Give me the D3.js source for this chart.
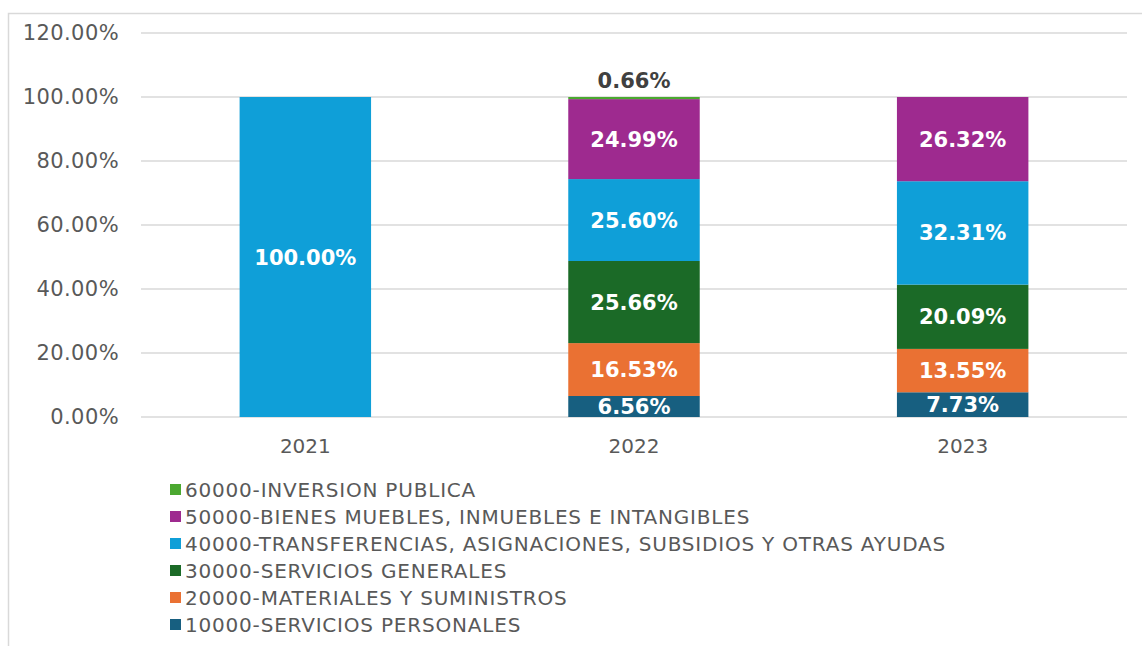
<!DOCTYPE html>
<html>
<head>
<meta charset="utf-8">
<script src="https://cdn.jsdelivr.net/npm/d3@7"></script>
<style>
  body { margin: 0; background: #fff; }
  text { font-family: "DejaVu Sans", sans-serif; }
</style>
</head>
<body>
<div id="chart"></div>
<script>
const years = ['2021', '2022', '2023'];
const seriesNames = [
  '10000-SERVICIOS PERSONALES',
  '20000-MATERIALES Y SUMINISTROS',
  '30000-SERVICIOS GENERALES',
  '40000-TRANSFERENCIAS, ASIGNACIONES, SUBSIDIOS Y OTRAS AYUDAS',
  '50000-BIENES MUEBLES, INMUEBLES E INTANGIBLES',
  '60000-INVERSION PUBLICA'
];
const seriesColors = ['#175f80', '#ea7133', '#1b6a27', '#0f9fd8', '#9e2a8f', '#4ba830'];
// percentages by series, one value per year
const s10000 = [0, 6.56, 7.73];
const s20000 = [0, 16.53, 13.55];
const s30000 = [0, 25.66, 20.09];
const s40000 = [100, 25.60, 32.31];
const s50000 = [0, 24.99, 26.32];
const s60000 = [0, 0.66, 0];
const yTicks = [0, 20, 40, 60, 80, 100, 120];

const allSeries = [s10000, s20000, s30000, s40000, s50000, s60000];

const totalWidth = 1142, totalHeight = 646;
const plot = { left: 141, right: 1127, top: 33, bottom: 417 };

const svg = d3.select('#chart').append('svg')
  .attr('width', totalWidth)
  .attr('height', totalHeight);

// outer frame
svg.append('rect')
  .attr('x', 8.5).attr('y', 13.5)
  .attr('width', 1150).attr('height', 650)
  .attr('fill', 'none')
  .attr('stroke', '#d9d9d9')
  .attr('stroke-width', 1.5);

const x = d3.scaleBand()
  .domain(years)
  .range([plot.left, plot.right])
  .paddingInner(0.6)
  .paddingOuter(0.3);

const y = d3.scaleLinear()
  .domain([0, 120])
  .range([plot.bottom, plot.top]);

// gridlines
svg.append('g')
  .selectAll('line')
  .data(yTicks)
  .enter()
  .append('line')
    .attr('x1', plot.left)
    .attr('x2', plot.right)
    .attr('y1', d => y(d))
    .attr('y2', d => y(d))
    .attr('stroke', '#d9d9d9')
    .attr('stroke-width', 1.5);

// y axis labels
const yAxis = d3.axisLeft(y).tickValues(yTicks).tickSize(0).tickPadding(0)
  .tickFormat(d => d.toFixed(2) + '%');
const yAxisView = svg.append('g')
  .attr('transform', 'translate(119,0)')
  .call(yAxis);
yAxisView.select('.domain').remove();
yAxisView.selectAll('text')
  .style('font-family', '"DejaVu Sans", sans-serif')
  .style('font-size', '21px')
  .style('letter-spacing', '0.4px')
  .attr('fill', '#595959');

// stacked data
const table = years.map((yr, i) => {
  const row = { year: yr };
  seriesNames.forEach((n, k) => { row[n] = allSeries[k][i]; });
  return row;
});
const stacked = d3.stack().keys(seriesNames)(table);

const layers = svg.append('g')
  .selectAll('g')
  .data(stacked)
  .enter()
  .append('g')
    .attr('fill', (d, i) => seriesColors[i]);

layers.selectAll('rect')
  .data(d => d.filter(p => p[1] - p[0] > 0))
  .enter()
  .append('rect')
    .attr('x', d => x(d.data.year))
    .attr('width', x.bandwidth())
    .attr('y', d => y(d[1]))
    .attr('height', d => y(d[0]) - y(d[1]));

// value labels
const labels = [];
stacked.forEach((layer, k) => {
  layer.forEach(p => {
    const v = p[1] - p[0];
    if (v <= 0) return;
    labels.push({ year: p.data.year, v: v, mid: (p[0] + p[1]) / 2, top: p[1], small: v < 3 });
  });
});

svg.append('g')
  .selectAll('text')
  .data(labels)
  .enter()
  .append('text')
    .attr('x', d => x(d.year) + x.bandwidth() / 2)
    .attr('y', d => d.small ? y(d.top) - 17 : y(d.mid))
    .attr('dy', '0.36em')
    .attr('text-anchor', 'middle')
    .style('font-size', '21px')
    .style('font-weight', 'bold')
    .attr('fill', d => d.small ? '#404040' : '#ffffff')
    .text(d => d.v.toFixed(2) + '%');

// x axis labels
const xAxis = d3.axisBottom(x).tickSize(0).tickPadding(0);
const xAxisView = svg.append('g')
  .attr('transform', 'translate(0,' + (plot.bottom + 22) + ')')
  .call(xAxis);
xAxisView.select('.domain').remove();
xAxisView.selectAll('text')
  .style('font-family', '"DejaVu Sans", sans-serif')
  .style('font-size', '20px')
  .attr('fill', '#595959');

// legend (top-down order reversed)
const legendItems = seriesNames.map((n, i) => ({ name: n, color: seriesColors[i] })).reverse();
const legend = svg.append('g')
  .selectAll('g')
  .data(legendItems)
  .enter()
  .append('g')
    .attr('transform', (d, i) => 'translate(170,' + (490 + i * 27) + ')');
legend.append('rect')
  .attr('x', 0).attr('y', -6)
  .attr('width', 11).attr('height', 11)
  .attr('fill', d => d.color);
legend.append('text')
  .attr('x', 15)
  .attr('dy', '0.36em')
  .style('font-size', '20px')
  .style('letter-spacing', '0.8px')
  .attr('fill', '#595959')
  .text(d => d.name);
</script>
</body>
</html>
